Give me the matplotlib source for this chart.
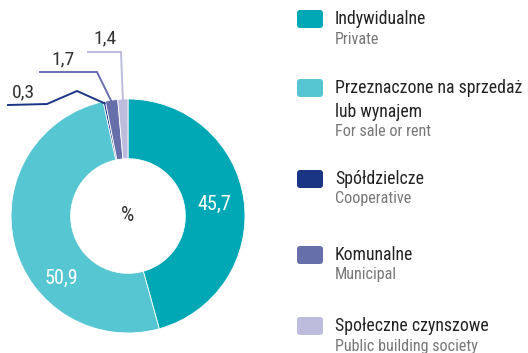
import numpy as np
import matplotlib
matplotlib.use("Agg")
import matplotlib.pyplot as plt
from matplotlib.patches import FancyBboxPatch
from matplotlib import font_manager

names_pl = ["Indywidualne", "Przeznaczone na sprzedaż\nlub wynajem", "Spółdzielcze",
            "Komunalne", "Społeczne czynszowe"]
names_en = ["Private", "For sale or rent", "Cooperative", "Municipal",
            "Public building society"]
shares = [45.7, 50.9, 0.3, 1.7, 1.4]
colors = ["#00a8b6", "#56c6d2", "#1b3585", "#676fab", "#bdbcdd"]

installed = {f.name for f in font_manager.fontManager.ttflist}
family = [f for f in ["Liberation Sans Narrow", "Roboto Condensed", "Open Sans Condensed"]
          if f in installed] + ["DejaVu Sans"]
plt.rcParams["font.family"] = family

W, H = 528, 353
fig = plt.figure(figsize=(W / 100, H / 100), dpi=100)

# donut, placed in pixel terms
cx, cy, R = 128, 216, 117
pie_ax = fig.add_axes([(cx - R) / W, (H - cy - R) / H, 2 * R / W, 2 * R / H])
pie_ax.pie(shares, colors=colors, startangle=90, counterclock=False, radius=1,
           wedgeprops=dict(width=0.51, edgecolor="white", linewidth=0.6))
pie_ax.set_xlim(-1, 1)
pie_ax.set_ylim(-1, 1)
pie_ax.set_aspect("equal")
pie_ax.axis("off")
pie_ax.text(0, 0, "%", ha="center", va="center", fontsize=15, color="#333333")

# overlay in pixel coordinates (y downwards)
ov = fig.add_axes([0, 0, 1, 1])
ov.set_xlim(0, W)
ov.set_ylim(H, 0)
ov.axis("off")

def fmt(v):
    return f"{v:.1f}".replace(".", ",")

def wedge_point(i, frac, r):
    # point at a fraction along wedge i, r pixels from the centre
    start = sum(shares[:i])
    pct = start + frac * shares[i]
    a = np.deg2rad(90 - 3.6 * pct)
    return cx + r * np.cos(a), cy - r * np.sin(a)

# labels inside the two big wedges
for i, frac, r in ((0, 0.5, 87), (1, 0.34, 91)):
    x, y = wedge_point(i, frac, r)
    ov.text(x, y, fmt(shares[i]), ha="center", va="center", fontsize=14.5, color="white")

# leader lines for the thin wedges
leaders = {
    2: dict(path=[(77, 91), (47, 104), (8, 105)], text=(12, 92)),
    3: dict(path=[(97, 72), (40, 72)], text=(51, 59)),
    4: dict(path=[(121, 52), (88, 52)], text=(93, 38)),
}
for i, spec in leaders.items():
    pts = [wedge_point(i, 0.5, R - 2)] + spec["path"]
    xs, ys = zip(*pts)
    ov.plot(xs, ys, color=colors[i], lw=1.4, solid_joinstyle="miter")
    ov.text(spec["text"][0], spec["text"][1], fmt(shares[i]), ha="left", va="center",
            fontsize=14, color="#333333")

# legend
legend_y = [19, 88, 179, 255, 326]
for y, name, sub, c in zip(legend_y, names_pl, names_en, colors):
    ov.add_patch(FancyBboxPatch((297, y - 9), 26, 18, boxstyle="round,pad=0,rounding_size=3",
                                facecolor=c, edgecolor="none"))
    lines = name.split("\n")
    for k, line in enumerate(lines):
        ov.text(335, y + 24 * k, line, ha="left", va="center", fontsize=12.8,
                color="#222222")
    ov.text(335, y + 24 * (len(lines) - 1) + 20, sub, ha="left", va="center",
            fontsize=11.6, color="#777777")

fig.savefig("out.png", dpi=100)
